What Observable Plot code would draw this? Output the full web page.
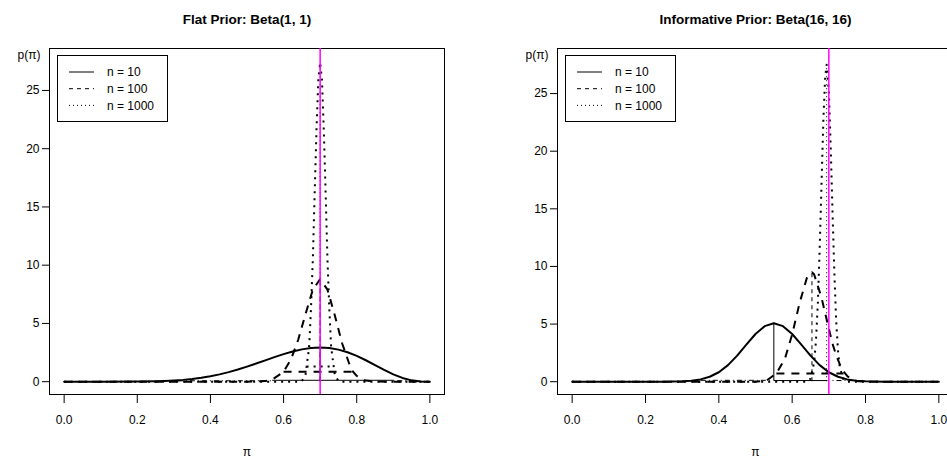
<!DOCTYPE html>
<html><head><meta charset="utf-8">
<script src="https://cdn.jsdelivr.net/npm/d3@7"></script>
<script src="https://cdn.jsdelivr.net/npm/@observablehq/plot@0.6"></script>
<style>
body{margin:0;background:#fff;}
#wrap{position:relative;width:947px;height:461px;overflow:hidden;background:#fff;font-family:"Liberation Sans",Arial,Helvetica,sans-serif;}
#wrap svg{position:absolute;top:0;}
</style></head><body><div id="wrap"></div>
<script>
// ---------- data ----------
const xTicks = [0, 0.2, 0.4, 0.6, 0.8, 1.0];
const yTicks = [0, 5, 10, 15, 20, 25];
const trueValue = 0.7;
const sampleSizes = ["n = 10", "n = 100", "n = 1000"];
const titles = ["Flat Prior: Beta(1, 1)", "Informative Prior: Beta(16, 16)"];

// Flat prior posteriors [pi, density]
const flatN10 = [[0,0],[0.1,0],[0.2,0.009],[0.25,0.034],[0.275,0.06],[0.3,0.099],[0.325,0.155],[0.35,0.233],[0.375,0.336],[0.4,0.467],[0.425,0.628],[0.45,0.821],[0.475,1.042],[0.5,1.289],[0.525,1.555],[0.55,1.831],[0.575,2.106],[0.6,2.365],[0.625,2.593],[0.65,2.774],[0.675,2.893],[0.7,2.935],[0.725,2.89],[0.75,2.753],[0.775,2.525],[0.8,2.215],[0.825,1.84],[0.85,1.428],[0.875,1.012],[0.9,0.631],[0.925,0.323],[0.95,0.115],[0.975,0.017],[1,0]];
const flatN100 = [[0,0],[0.5,0],[0.55,0.05],[0.57,0.2],[0.6,0.85],[0.62,1.9],[0.64,3.6],[0.66,5.8],[0.68,7.9],[0.7,8.8],[0.72,7.9],[0.74,5.7],[0.76,3.3],[0.78,1.5],[0.79,0.85],[0.8,0.5],[0.82,0.12],[0.85,0.01],[0.9,0],[1,0]];
const flatN1000 = [[0,0],[0.64,0],[0.65,0.05],[0.66,0.6],[0.67,3.0],[0.675,6.3],[0.68,10.5],[0.685,16.2],[0.69,21.6],[0.695,25.9],[0.7,27.4],[0.705,25.9],[0.71,21.6],[0.715,16.2],[0.72,10.5],[0.725,6.3],[0.73,3.0],[0.74,0.6],[0.75,0.05],[0.76,0],[1,0]];
const flatN100Band = [[0.6,0.85],[0.79,0.85]];
const flatN1000Band = [[0.663,1.3],[0.737,1.3]];
const flatModes = [[0.7,0,2.935],[0.7,0,8.8],[0.7,0,27.4]];
const flatBottomDashDot = [[[0.3,0.08],[0.57,0.08]],[[0.9,0.08],[0.96,0.08]]];
const flatBottomSolid = [[0.57,0.12],[0.9,0.12]];

// Informative prior posteriors [pi, density]
const infN10 = [[0,0],[0.2,0],[0.25,0.004],[0.3,0.033],[0.325,0.085],[0.35,0.2],[0.375,0.43],[0.4,0.82],[0.425,1.44],[0.45,2.26],[0.475,3.22],[0.5,4.14],[0.525,4.82],[0.55,5.07],[0.575,4.82],[0.6,4.14],[0.625,3.22],[0.65,2.26],[0.675,1.44],[0.7,0.82],[0.725,0.43],[0.75,0.2],[0.775,0.085],[0.8,0.033],[0.85,0.004],[0.9,0],[1,0]];
const infN100 = [[0,0],[0.5,0],[0.53,0.1],[0.557,0.72],[0.58,1.97],[0.6,4.1],[0.62,6.8],[0.64,9.0],[0.654,9.5],[0.66,9.3],[0.68,7.3],[0.7,4.6],[0.71,3.3],[0.72,2.3],[0.73,1.5],[0.74,0.9],[0.75,0.5],[0.76,0.22],[0.78,0.04],[0.8,0],[1,0]];
const infN1000 = [[0,0],[0.64,0],[0.65,0.25],[0.66,1.7],[0.665,3.6],[0.67,6.8],[0.675,11.5],[0.68,17.1],[0.685,22.6],[0.69,26.4],[0.694,27.5],[0.7,25.2],[0.705,20.5],[0.71,14.8],[0.715,9.5],[0.72,5.3],[0.725,2.7],[0.73,1.2],[0.74,0.17],[0.75,0],[1,0]];
const infN100Band = [[0.557,0.72],[0.74,0.72]];
const infModes = [[0.55,0.1,5.07],[0.654,0,9.4],[0.694,0,27.5]];
const infBottomDashDot = [[[0.34,0.12],[0.54,0.12]],[[0.71,0.1],[0.77,0.1]]];
const infBottomSolid = [[0.55,0.1],[0.695,0.1]];

// ---------- drawing ----------
const FONT = '"Liberation Sans", Arial, Helvetica, sans-serif';
const thickStyles = [
  {strokeWidth: 2},
  {strokeWidth: 2, strokeDasharray: "8,7", strokeLinecap: "butt"},
  {strokeWidth: 2, strokeDasharray: "2,5", strokeLinecap: "butt"}
];
const thinStyles = [
  {strokeWidth: 1},
  {strokeWidth: 1, strokeDasharray: "4,4", strokeLinecap: "butt"},
  {strokeWidth: 1, strokeDasharray: "1,3", strokeLinecap: "butt"}
];
const X = d => d[0], Y = d => d[1];

function panel(cfg) {
  const marks = [
    Plot.axisX({ticks: xTicks, tickFormat: d3.format(".1f"), tickSize: 9, tickPadding: 12, label: null, fontSize: 12}),
    Plot.axisY({ticks: yTicks, tickSize: 7, tickPadding: 3, label: null, fontSize: 12}),
    Plot.frame({stroke: "black", strokeWidth: 1})
  ];
  cfg.bottomDashDot.forEach(seg => marks.push(Plot.line(seg, {x: X, y: Y, stroke: "black", strokeWidth: 1, strokeDasharray: "1,3,5,3", strokeLinecap: "butt"})));
  marks.push(Plot.line(cfg.bottomSolid, {x: X, y: Y, stroke: "black", strokeWidth: 1}));
  cfg.modes.forEach((m, i) => marks.push(Plot.ruleX([m], {x: d => d[0], y1: d => d[1], y2: d => d[2], stroke: "black", ...thinStyles[i]})));
  cfg.bands.forEach(b => marks.push(Plot.line(b.data, {x: X, y: Y, stroke: "black", ...thickStyles[b.style]})));
  cfg.curves.forEach((c, i) => marks.push(Plot.line(c, {x: X, y: Y, stroke: "black", ...thickStyles[i]})));
  marks.push(Plot.ruleX([trueValue], {stroke: "#ff00ff", strokeWidth: 1.5}));
  marks.push(Plot.text([cfg.title], {text: d => d, frameAnchor: "top", dy: -34, fontWeight: "bold", fontSize: 13.5}));
  marks.push(Plot.text(["p(π)"], {text: d => d, frameAnchor: "top-left", textAnchor: "end", dx: -9, dy: 2, fontSize: 12}));
  marks.push(Plot.text(["π"], {text: d => d, frameAnchor: "bottom", dy: 61, fontSize: 12}));

  const svg = Plot.plot({
    width: cfg.width, height: 461,
    marginLeft: cfg.marginLeft, marginRight: cfg.marginRight, marginTop: 48, marginBottom: 67,
    x: {domain: [-0.04, 1.04]},
    y: {domain: cfg.yDomain},
    style: {fontFamily: FONT, fontSize: "12px", color: "black", background: "transparent", overflow: "visible"},
    marks
  });
  svg.style.left = cfg.left + "px";
  document.getElementById("wrap").appendChild(svg);
}

function legend(left) {
  const svg = d3.select("#wrap").append("svg")
    .attr("width", 112).attr("height", 68)
    .style("left", left + "px").style("top", "55px");
  svg.append("rect").attr("x", 0.5).attr("y", 0.5).attr("width", 110).attr("height", 66)
    .attr("fill", "white").attr("stroke", "black");
  sampleSizes.forEach((lab, i) => {
    const y = 17 + i * 16.7;
    const st = thinStyles[i];
    svg.append("line").attr("x1", 12).attr("x2", 37).attr("y1", y).attr("y2", y)
      .attr("stroke", "black").attr("stroke-width", 1)
      .attr("stroke-dasharray", st.strokeDasharray || null);
    svg.append("text").attr("x", 50).attr("y", y).attr("dy", "0.35em")
      .attr("font-family", FONT).attr("font-size", 12).text(lab);
  });
}

panel({
  title: titles[0], left: 0, width: 474, marginLeft: 49, marginRight: 30, yDomain: [-1.1, 28.6],
  curves: [flatN10, flatN100, flatN1000],
  bands: [{data: flatN100Band, style: 1}, {data: flatN1000Band, style: 2}],
  modes: flatModes, bottomDashDot: flatBottomDashDot, bottomSolid: flatBottomSolid
});
panel({
  title: titles[1], left: 474, width: 479, marginLeft: 83, marginRight: 0, yDomain: [-1.11, 28.91],
  curves: [infN10, infN100, infN1000],
  bands: [{data: infN100Band, style: 1}],
  modes: infModes, bottomDashDot: infBottomDashDot, bottomSolid: infBottomSolid
});
legend(57);
legend(565);
</script></body></html>
